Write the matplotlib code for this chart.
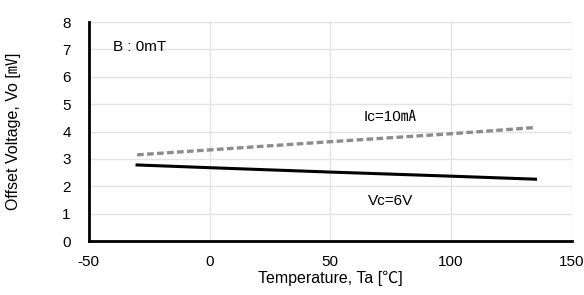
import matplotlib
matplotlib.use('Agg')
import matplotlib.pyplot as plt

plt.rcParams['font.family'] = ['Liberation Sans', 'Noto Sans CJK JP', 'DejaVu Sans']
plt.rcParams['axes.unicode_minus'] = False

# Datos
temp = [-30, 0, 50, 100, 135]
vo_vc6v = [2.78, 2.68, 2.52, 2.37, 2.26]
vo_ic10ma = [3.15, 3.33, 3.63, 3.92, 4.15]

x_ticks = [-50, 0, 50, 100, 150]
y_ticks = [0, 1, 2, 3, 4, 5, 6, 7, 8]

fig = plt.figure(figsize=(5.84, 2.95), dpi=100)
ax = fig.add_axes([0.152, 0.183, 0.827, 0.742])

ax.plot(temp, vo_ic10ma, color='#8c8c8c', lw=2.4, ls=(0, (2, 1)), solid_capstyle='butt')
ax.plot(temp, vo_vc6v, color='black', lw=2.2)

ax.set_xlim(-50, 150)
ax.set_ylim(0, 8)
ax.set_xticks(x_ticks)
ax.set_yticks(y_ticks)
ax.grid(True, color='#e3e3e3', lw=1)
ax.set_axisbelow(True)
ax.tick_params(axis='x', length=0, labelsize=11, pad=10)
ax.tick_params(axis='y', length=0, labelsize=11, pad=13)

for s in ['top', 'right']:
    ax.spines[s].set_visible(False)
for s in ['left', 'bottom']:
    ax.spines[s].set_linewidth(2)
    ax.spines[s].set_color('black')

ax.set_xlabel('Temperature, Ta [\u2103]', fontsize=11.5, labelpad=1)
ax.set_ylabel('Offset Voltage, Vo [\u33b7]', fontsize=11.5, labelpad=30)

ax.text(-40, 7.1, 'B : 0mT', fontsize=11, va='center')
ax.text(75, 4.55, 'Ic=10\u3383', fontsize=11, ha='center', va='center')
ax.text(75, 1.45, 'Vc=6V', fontsize=11, ha='center', va='center')

plt.savefig('out.png', dpi=100)
plt.close()
